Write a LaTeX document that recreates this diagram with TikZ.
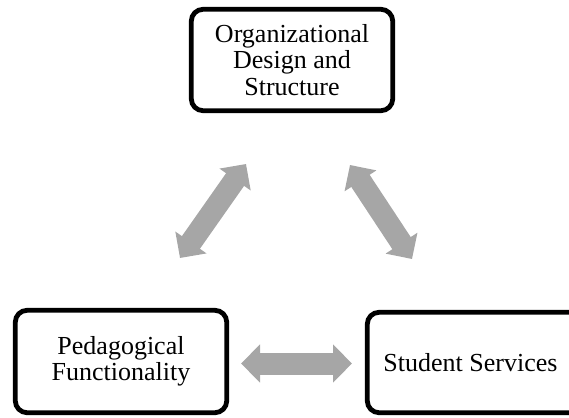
\documentclass[tikz,border=0pt]{standalone}
\usepackage{fontspec}
\setmainfont{Liberation Serif}
\usetikzlibrary{arrows.meta}
\definecolor{arrgray}{RGB}{166,166,166}
\tikzset{
  boxnode/.style={draw=black, line width=4.8pt, rounded corners=12pt, fill=white,
    align=center, inner sep=0pt, font=\fontsize{26pt}{26.5pt}\selectfont},
  twoway/.style={draw=arrgray, line width=22pt,
    {Triangle[length=19pt,width=37pt]}-{Triangle[length=19pt,width=37pt]}}
}
\begin{document}
\begin{tikzpicture}[x=1pt,y=-1pt]
\useasboundingbox (0,0) rectangle (569,417);
\node[boxnode, minimum width=201.5pt, minimum height=101.5pt] (org) at (292,60)
  {Organizational\\Design and\\Structure};
\node[boxnode, minimum width=211.5pt, minimum height=102.5pt] (ped) at (121,361.5)
  {Pedagogical\\Functionality};
\node[boxnode, minimum width=220.5pt, minimum height=100.5pt] (stu) at (477.5,362.5)
  {Student Services\hspace*{14pt}};
\coordinate (la) at (180,258);
\coordinate (lb) at (246,164);
\coordinate (ra) at (350,165);
\coordinate (rb) at (412,259);
\coordinate (ha) at (241,363.5);
\coordinate (hb) at (352,363.5);
\draw[twoway] (la) -- (lb);
\draw[twoway] (ra) -- (rb);
\draw[twoway] (ha) -- (hb);
\end{tikzpicture}
\end{document}
